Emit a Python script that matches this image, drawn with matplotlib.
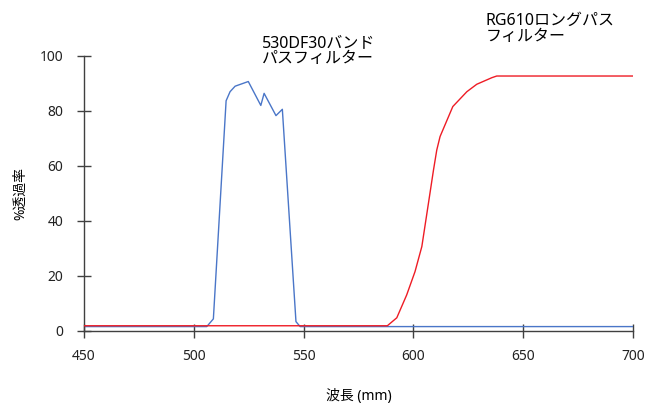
import matplotlib
matplotlib.use("Agg")
import matplotlib.pyplot as plt

plt.rcParams["font.family"] = ["Noto Sans", "Noto Sans CJK JP", "DejaVu Sans"]

# 530DF30 band pass filter
band_nm = [450, 505.9, 508.9, 514.7, 516.5, 518.8, 524.8, 530.5, 532.0,
           537.4, 540.3, 546.5, 548.4, 700]
band_pct = [1.6, 1.6, 4.4, 83.7, 87.0, 89.0, 90.7, 82.0, 86.4,
            78.3, 80.6, 3.4, 1.6, 1.6]

# RG610 long pass filter
long_nm = [450, 588.1, 592.4, 596.9, 600.7, 603.8, 606.8, 609.1, 610.6,
           612.1, 617.9, 624.3, 628.8, 635.7, 637.9, 700]
long_pct = [1.9, 1.9, 4.8, 13.1, 21.6, 30.7, 46.4, 58.5, 65.8,
            70.7, 81.6, 87.0, 89.7, 92.1, 92.7, 92.7]

x_ticks = [450, 500, 550, 600, 650, 700]
y_ticks = [0, 20, 40, 60, 80, 100]

fig = plt.figure(figsize=(6.48, 4.03), dpi=100)
ax = fig.add_axes([0.1296, 0.1787, 0.8475, 0.6825])

ax.plot(band_nm, band_pct, color="#4a76c8", lw=1.0, zorder=2)
ax.plot(long_nm, long_pct, color="#ee1c25", lw=1.0, zorder=3)

ax.set_xlim(450, 700)
ax.set_ylim(0, 100)
ax.set_xticks(x_ticks)
ax.set_yticks(y_ticks)

for s in ["top", "right"]:
    ax.spines[s].set_visible(False)
for s in ["left", "bottom"]:
    ax.spines[s].set_color("#404040")
    ax.spines[s].set_linewidth(1.0)

ax.tick_params(direction="inout", length=10, width=1.0, color="#404040",
               labelsize=10, labelcolor="#222222")
ax.tick_params(axis="y", pad=10)
ax.tick_params(axis="x", pad=8)

ax.set_xlabel("波長 (mm)", fontsize=10, labelpad=18)
ax.set_ylabel("%透過率", fontsize=10, labelpad=8)

ax.text(531, 96.0, "530DF30バンド\nパスフィルター", fontsize=11.5,
        ha="left", va="bottom", linespacing=1.0)
ax.text(633, 104.0, "RG610ロングパス\nフィルター", fontsize=11.5,
        ha="left", va="bottom", linespacing=1.0, clip_on=False)

fig.savefig("out.png", dpi=100)
